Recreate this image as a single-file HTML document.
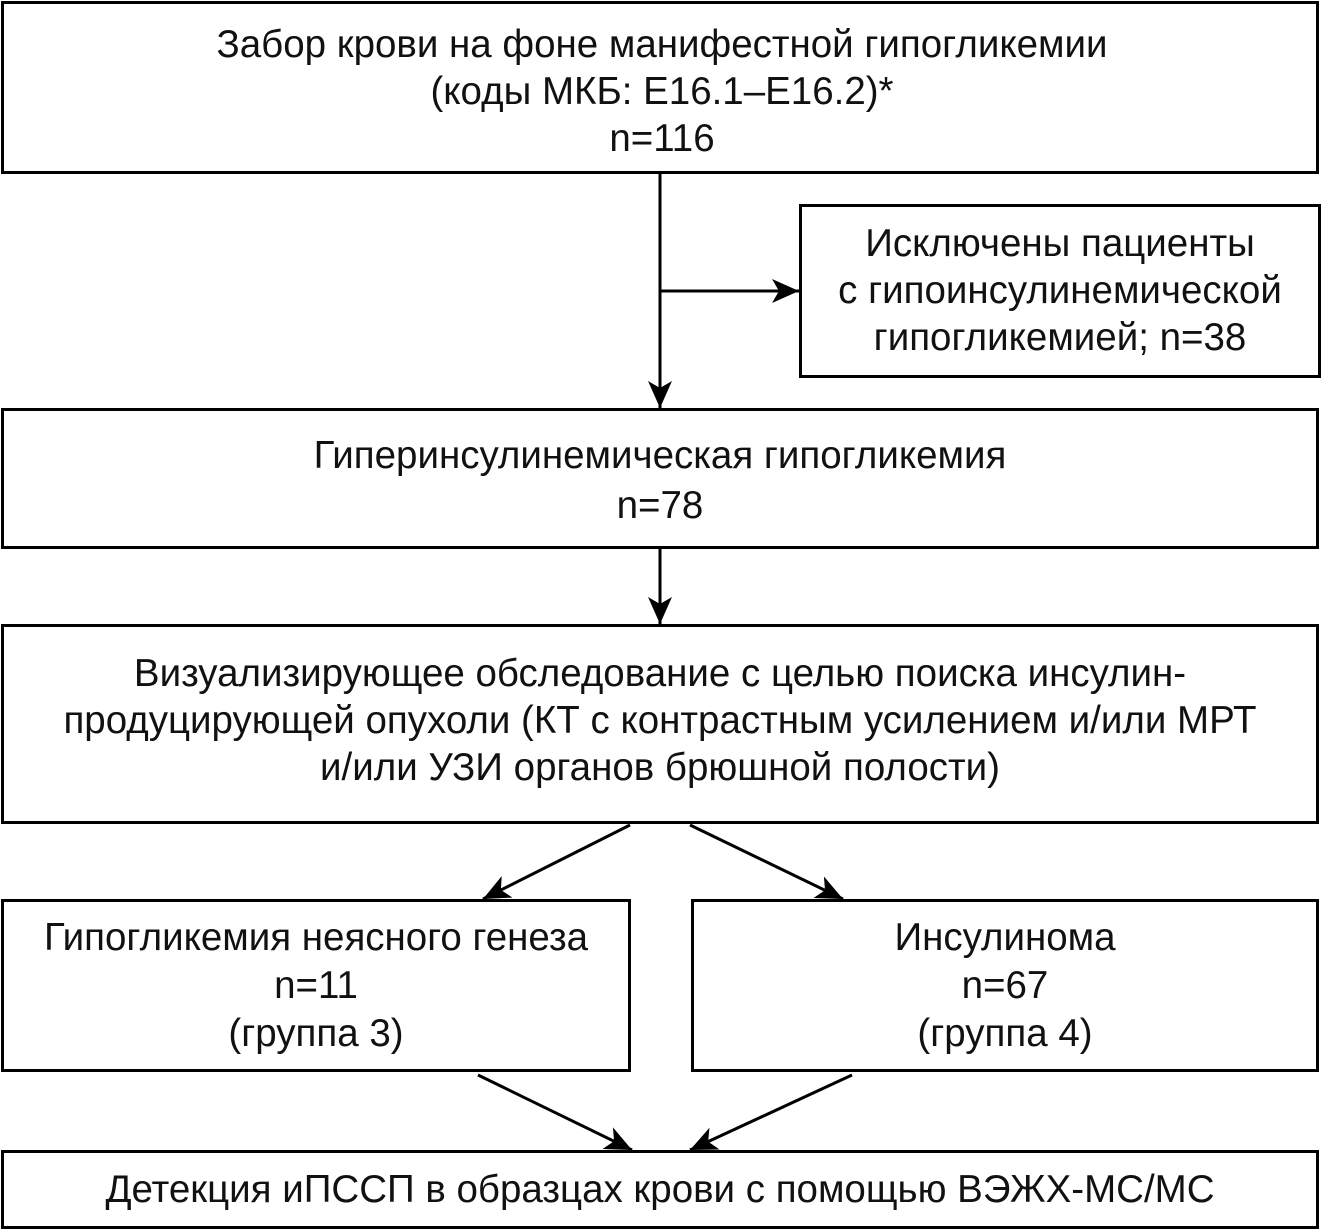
<!DOCTYPE html><html><head><style>body{margin:0;background:#fff}svg{display:block}text{font-family:"Liberation Sans",sans-serif;font-size:38.5px;fill:#111;text-anchor:middle}</style></head><body>
<svg width="1321" height="1229" viewBox="0 0 1321 1229">
<defs><marker id="a" markerUnits="userSpaceOnUse" markerWidth="28" markerHeight="24" refX="27" refY="12" orient="auto"><path d="M0,0 L27,12 L0,24 L7,12 Z" fill="#000"/></marker></defs>
<g fill="none" stroke="#000" stroke-width="3">
<rect x="2.5" y="2.5" width="1315" height="170"/>
<rect x="800.5" y="205.5" width="519" height="171"/>
<rect x="2.5" y="409.5" width="1315" height="138"/>
<rect x="2.5" y="625.5" width="1315" height="197"/>
<rect x="2.5" y="900.5" width="627" height="170"/>
<rect x="692.5" y="900.5" width="625" height="170"/>
<rect x="2.5" y="1151.5" width="1315" height="76"/>
<line x1="660" y1="173" x2="660" y2="408" marker-end="url(#a)"/>
<line x1="660" y1="291" x2="799" y2="291" marker-end="url(#a)"/>
<line x1="660" y1="548" x2="660" y2="624" marker-end="url(#a)"/>
<line x1="630" y1="825" x2="483" y2="899" marker-end="url(#a)"/>
<line x1="690" y1="825" x2="843" y2="899" marker-end="url(#a)"/>
<line x1="478" y1="1075" x2="632" y2="1150" marker-end="url(#a)"/>
<line x1="852" y1="1075" x2="690" y2="1150" marker-end="url(#a)"/>
</g>
<text x="662" y="57">Забор крови на фоне манифестной гипогликемии</text>
<text x="662" y="104">(коды МКБ: E16.1–E16.2)*</text>
<text x="662" y="151">n=116</text>
<text x="1060" y="256">Исключены пациенты</text>
<text x="1060" y="303">с гипоинсулинемической</text>
<text x="1060" y="350">гипогликемией; n=38</text>
<text x="660" y="468">Гиперинсулинемическая гипогликемия</text>
<text x="660" y="518">n=78</text>
<text x="660" y="686">Визуализирующее обследование с целью поиска инсулин-</text>
<text x="660" y="733">продуцирующей опухоли (КТ с контрастным усилением и/или МРТ</text>
<text x="660" y="780">и/или УЗИ органов брюшной полости)</text>
<text x="316" y="950">Гипогликемия неясного генеза</text>
<text x="316" y="998">n=11</text>
<text x="316" y="1046">(группа 3)</text>
<text x="1005" y="950">Инсулинома</text>
<text x="1005" y="998">n=67</text>
<text x="1005" y="1046">(группа 4)</text>
<text x="660" y="1202">Детекция иПССП в образцах крови с помощью ВЭЖХ-МС/МС</text>
</svg></body></html>
